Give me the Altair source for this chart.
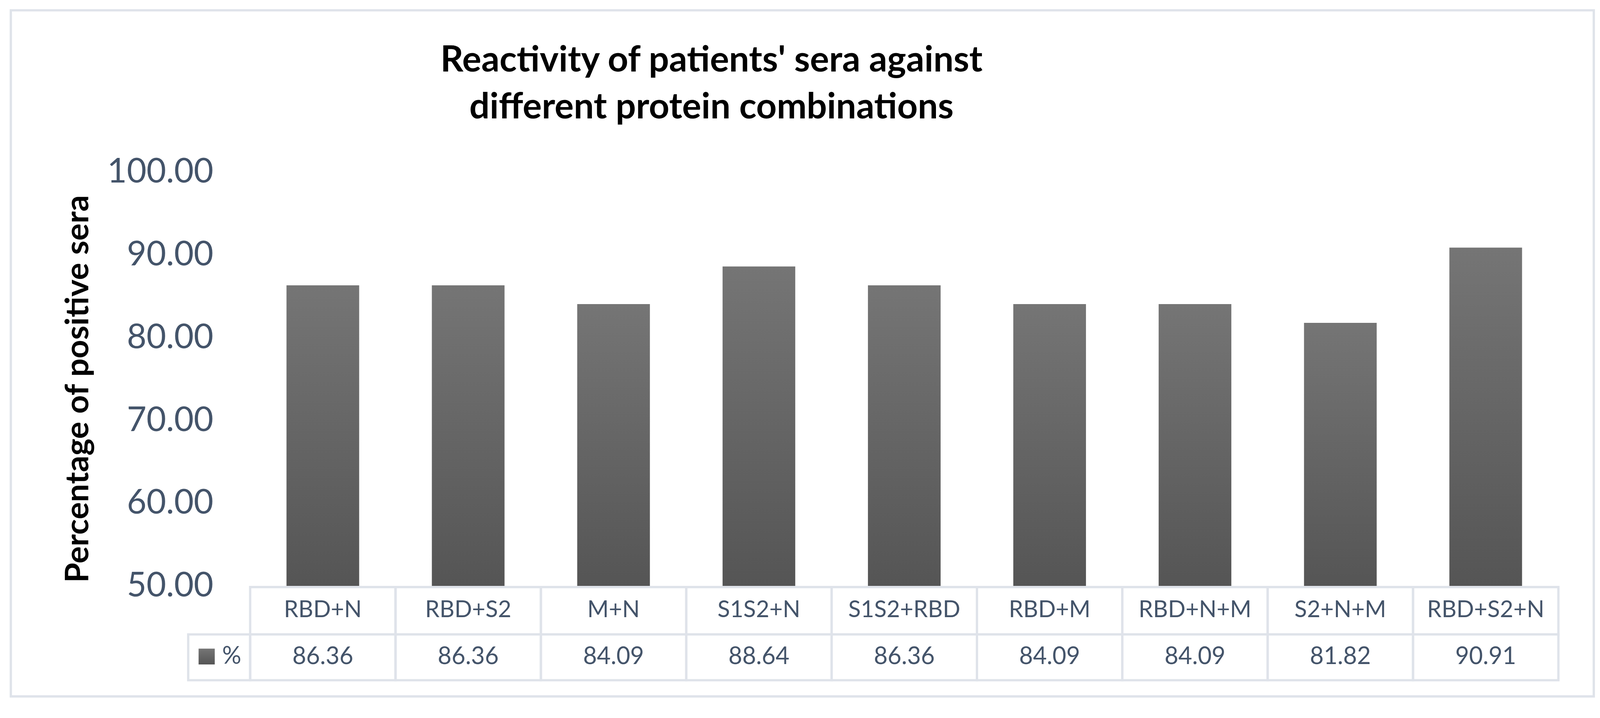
import altair as alt
import pandas as pd

# ---- data ----
categories = ["RBD+N", "RBD+S2", "M+N", "S1S2+N", "S1S2+RBD",
              "RBD+M", "RBD+N+M", "S2+N+M", "RBD+S2+N"]
values = [86.36, 86.36, 84.09, 88.64, 86.36, 84.09, 84.09, 81.82, 90.91]
y_ticks = [50, 60, 70, 80, 90, 100]
title_lines = ["Reactivity of patients' sera against", "different protein combinations"]
y_title = "Percentage of positive sera"
series_name = "%"

df = pd.DataFrame({"cat": categories, "val": values})
df["label"] = [f"{v:.2f}" for v in values]
one = pd.DataFrame({"k": [0]})

FONT = "Lato"
TXT = "#44546a"
LINE = "#dfe3ea"
grad = alt.Gradient(
    gradient="linear",
    stops=[alt.GradientStop(color="#757575", offset=0),
           alt.GradientStop(color="#555555", offset=1)],
    x1=0, x2=0, y1=0, y2=1,
)

W, H = 3400, 1075

xscale = alt.Scale(domain=categories, paddingInner=0, paddingOuter=0)
xenc = alt.X("cat:N", scale=xscale, axis=None, sort=categories)

border = alt.Chart(one).mark_rect(fillOpacity=0, stroke=LINE, strokeWidth=6).encode(
    x=alt.value(-622), x2=alt.value(3492), y=alt.value(-421), y2=alt.value(1361)
)

bars = alt.Chart(df).mark_bar(width=alt.RelativeBandSize(0.5), color=grad).encode(
    x=xenc,
    y=alt.Y(
        "val:Q",
        scale=alt.Scale(domain=[50, 100], zero=False, nice=False),
        axis=alt.Axis(
            values=y_ticks, format=".2f", grid=False, ticks=False, tickSize=0,
            domain=False, labelFont=FONT, labelFontSize=88, labelColor=TXT,
            labelPadding=96, labelLimit=0, title=y_title, titleFont=FONT,
            titleFontSize=84, titleFontWeight="bold", titleColor="black",
            titleX=-446, titleY=562, titleAngle=270, titleAlign="center",
            titleBaseline="middle", titleLimit=0, zindex=1,
        ),
    ),
    y2=alt.datum(50),
)

head_cells = alt.Chart(df).mark_rect(fillOpacity=0, stroke=LINE, strokeWidth=6).encode(
    x=xenc, y=alt.value(1077), y2=alt.value(1200)
)
val_cells = alt.Chart(df).mark_rect(fillOpacity=0, stroke=LINE, strokeWidth=6).encode(
    x=xenc, y=alt.value(1200), y2=alt.value(1319)
)
legend_cell = alt.Chart(one).mark_rect(fillOpacity=0, stroke=LINE, strokeWidth=6).encode(
    x=alt.value(-161), x2=alt.value(0), y=alt.value(1200), y2=alt.value(1319)
)
head_text = alt.Chart(df).mark_text(font=FONT, fontSize=60, color=TXT, baseline="middle").encode(
    x=xenc, y=alt.value(1137), text="cat:N"
)
val_text = alt.Chart(df).mark_text(font=FONT, fontSize=62, color=TXT, baseline="middle").encode(
    x=xenc, y=alt.value(1258), text="label:N"
)
swatch = alt.Chart(one).mark_rect(color=grad).encode(
    x=alt.value(-134), x2=alt.value(-92), y=alt.value(1237), y2=alt.value(1278)
)
pct = alt.Chart(one).mark_text(font=FONT, fontSize=62, color=TXT, baseline="middle", align="center").encode(
    x=alt.value(-48), y=alt.value(1257), text=alt.value(series_name)
)
title = alt.Chart(one).mark_text(
    font=FONT, fontSize=93, fontWeight="bold", color="black", align="center",
    baseline="alphabetic", lineHeight=122, text=title_lines,
).encode(x=alt.value(1199), y=alt.value(-262))

chart = alt.layer(
    border, bars, head_cells, val_cells, legend_cell, head_text, val_text, swatch, pct, title
).properties(
    width=W, height=H,
    autosize=alt.AutoSizeParams(type="none"),
    padding={"left": 642, "top": 426, "right": 100, "bottom": 300},
).configure(background="white").configure_view(strokeWidth=0, stroke="transparent")

chart.save("out.html", embed_options={"renderer": "svg", "actions": False})
